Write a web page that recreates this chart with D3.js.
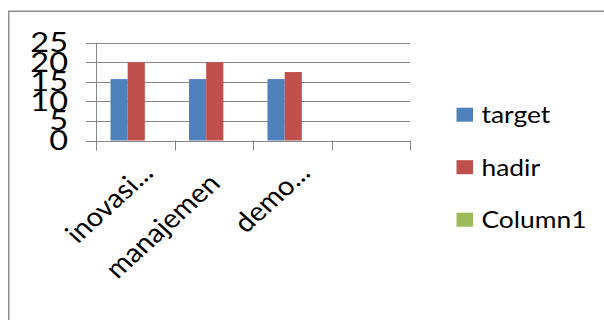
<!DOCTYPE html>
<html>
<head>
<meta charset="utf-8">
<script src="https://cdn.jsdelivr.net/npm/d3@7"></script>
<style>
  html, body { margin: 0; padding: 0; background: #fff; }
  svg { display: block; }
  text { font-family: Lato, "Open Sans", sans-serif; fill: #000; }
</style>
</head>
<body>
<svg id="chart" width="604" height="320"></svg>
<script>
// ---- data ----
const categories = ["inovasi...", "manajemen", "demo...", ""];
const seriesNames = ["target", "hadir", "Column1"];
const targetValues = [15.7, 15.7, 15.7, null];
const hadirValues = [20, 20, 17.5, null];
const column1Values = [null, null, null, null];
const yTickValues = [0, 5, 10, 15, 20, 25];
const seriesColors = ["#4F81BD", "#C0504D", "#9BBB59"];

const seriesValues = [targetValues, hadirValues, column1Values];

// ---- layout ----
const svg = d3.select("#chart");
const plot = { left: 96, right: 410, top: 42.7, bottom: 140.5 };
const gridColor = "#868686";
const sx = 1.1; // horizontal stretch of the source picture

// outer frame (only top and left edges are visible)
svg.append("path")
  .attr("d", "M8.75,320V11.25H604")
  .attr("fill", "none")
  .attr("stroke", "#8c8c8c")
  .attr("stroke-width", 1.5);

const x0 = d3.scaleBand().domain(categories.map((d, i) => i)).range([plot.left, plot.right]);
const x1 = d3.scaleBand().domain(seriesNames).range([14.5, x0.bandwidth() - 12.5]);
const y = d3.scaleLinear().domain([0, 25]).range([plot.bottom, plot.top]);

// gridlines (extend left as outside ticks)
const yAxis = d3.axisLeft(y).tickValues(yTickValues).tickSize(-(plot.right - plot.left) - 10).tickFormat("");
const gy = svg.append("g").attr("transform", `translate(${plot.left - 10},0)`).call(yAxis);
gy.select(".domain").remove();
gy.selectAll(".tick line").attr("stroke", gridColor).attr("shape-rendering", "crispEdges");

// y tick labels
svg.append("g").selectAll("text").data(yTickValues).join("text")
  .attr("transform", d => `translate(68,${y(d) - 0.7}) scale(1.25,1)`)
  .attr("text-anchor", "end")
  .attr("dominant-baseline", "central")
  .attr("font-size", 26)
  .text(d => d);

// bars
const groups = svg.append("g").selectAll("g").data(categories.map((c, i) => i)).join("g")
  .attr("transform", i => `translate(${x0(i)},0)`);
groups.selectAll("rect")
  .data(i => seriesNames.map((s, k) => ({ s, k, v: seriesValues[k][i] })).filter(d => d.v != null))
  .join("rect")
  .attr("x", d => x1(d.s))
  .attr("width", x1.bandwidth())
  .attr("y", d => y(d.v))
  .attr("height", d => y(0) - y(d.v))
  .attr("fill", d => seriesColors[d.k]);

// y axis line
svg.append("line")
  .attr("x1", plot.left + 0.5).attr("x2", plot.left + 0.5)
  .attr("y1", y(25)).attr("y2", y(0) + 10)
  .attr("stroke", gridColor);

// x axis with category boundary ticks
const xBoundaries = d3.range(categories.length + 1).map(i => plot.left + i * x0.bandwidth());
svg.append("line")
  .attr("x1", plot.left - 10).attr("x2", plot.right)
  .attr("y1", Math.round(y(0)) + 0.5).attr("y2", Math.round(y(0)) + 0.5)
  .attr("stroke", gridColor);
svg.append("g").selectAll("line").data(xBoundaries).join("line")
  .attr("x1", d => Math.round(d) + 0.5).attr("x2", d => Math.round(d) + 0.5)
  .attr("y1", y(0)).attr("y2", y(0) + 10)
  .attr("stroke", gridColor);

// rotated category labels
const slotLen = 104;
const labelG = svg.append("g").selectAll("g").data(categories.map((c, i) => i)).join("g")
  .attr("transform", i => `translate(${x0(i) + x0.bandwidth() / 2 + 19.5},174.5) scale(${sx},1) rotate(-45)`);
labelG.append("text")
  .attr("text-anchor", "end")
  .attr("font-size", 26.5)
  .text(i => categories[i])
  .each(function () {
    const L = this.getComputedTextLength();
    d3.select(this).attr("x", -Math.max(0, (L - slotLen) / 2));
  });

// legend
const legendY = [114.7, 167.2, 219.7];
const lg = svg.append("g").selectAll("g").data(seriesNames).join("g")
  .attr("transform", (d, k) => `translate(0,${legendY[k]})`);
lg.append("rect")
  .attr("x", 456.5).attr("y", -7).attr("width", 16.5).attr("height", 14)
  .attr("fill", (d, k) => seriesColors[k]);
lg.append("text")
  .attr("transform", `translate(481.5,8.6) scale(${sx},1)`)
  .attr("font-size", 24)
  .text(d => d);
</script>
</body>
</html>
